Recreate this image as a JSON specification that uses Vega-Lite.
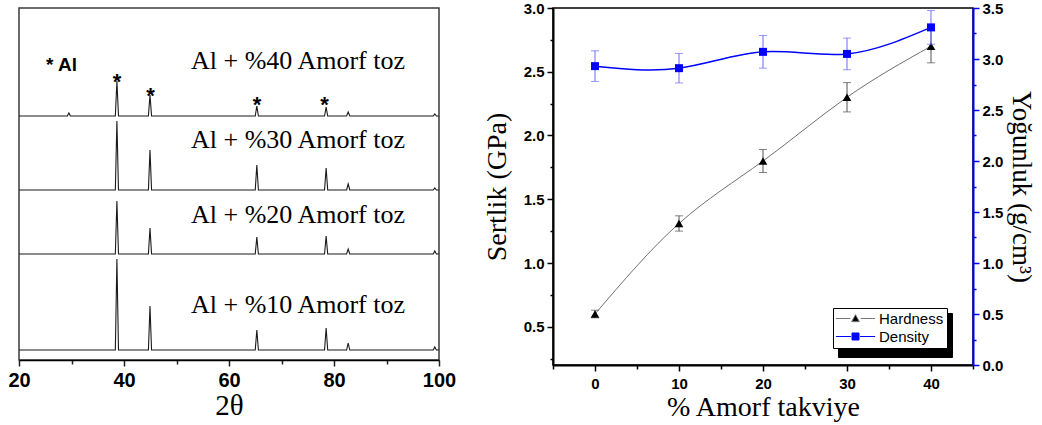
{
  "$schema": "https://vega.github.io/schema/vega-lite/v6.json",
  "background": "white",
  "padding": {"left": 7, "top": 0, "right": 0, "bottom": 0},
  "bounds": "flush",
  "spacing": 114,
  "datasets": {
    "xrd": [
      {"sample": "40", "theta": 20, "intensity": 244},
      {"sample": "40", "theta": 29.2, "intensity": 244},
      {"sample": "40", "theta": 29.5, "intensity": 247},
      {"sample": "40", "theta": 29.8, "intensity": 244},
      {"sample": "40", "theta": 38.35, "intensity": 244},
      {"sample": "40", "theta": 38.65, "intensity": 279},
      {"sample": "40", "theta": 38.95, "intensity": 244},
      {"sample": "40", "theta": 44.65, "intensity": 244},
      {"sample": "40", "theta": 44.95, "intensity": 265},
      {"sample": "40", "theta": 45.25, "intensity": 244},
      {"sample": "40", "theta": 65.0, "intensity": 244},
      {"sample": "40", "theta": 65.3, "intensity": 254},
      {"sample": "40", "theta": 65.6, "intensity": 244},
      {"sample": "40", "theta": 78.2, "intensity": 244},
      {"sample": "40", "theta": 78.5, "intensity": 253},
      {"sample": "40", "theta": 78.8, "intensity": 244},
      {"sample": "40", "theta": 82.4, "intensity": 244},
      {"sample": "40", "theta": 82.7, "intensity": 248},
      {"sample": "40", "theta": 83.0, "intensity": 244},
      {"sample": "40", "theta": 98.9, "intensity": 244},
      {"sample": "40", "theta": 99.2, "intensity": 246},
      {"sample": "40", "theta": 99.5, "intensity": 244},
      {"sample": "40", "theta": 100, "intensity": 244},
      {"sample": "30", "theta": 20, "intensity": 170},
      {"sample": "30", "theta": 38.35, "intensity": 170},
      {"sample": "30", "theta": 38.65, "intensity": 239},
      {"sample": "30", "theta": 38.95, "intensity": 170},
      {"sample": "30", "theta": 44.65, "intensity": 170},
      {"sample": "30", "theta": 44.95, "intensity": 210},
      {"sample": "30", "theta": 45.25, "intensity": 170},
      {"sample": "30", "theta": 65.0, "intensity": 170},
      {"sample": "30", "theta": 65.3, "intensity": 195},
      {"sample": "30", "theta": 65.6, "intensity": 170},
      {"sample": "30", "theta": 78.2, "intensity": 170},
      {"sample": "30", "theta": 78.5, "intensity": 192},
      {"sample": "30", "theta": 78.8, "intensity": 170},
      {"sample": "30", "theta": 82.4, "intensity": 170},
      {"sample": "30", "theta": 82.7, "intensity": 176},
      {"sample": "30", "theta": 83.0, "intensity": 170},
      {"sample": "30", "theta": 98.9, "intensity": 170},
      {"sample": "30", "theta": 99.2, "intensity": 172},
      {"sample": "30", "theta": 99.5, "intensity": 170},
      {"sample": "30", "theta": 100, "intensity": 170},
      {"sample": "20", "theta": 20, "intensity": 106},
      {"sample": "20", "theta": 38.35, "intensity": 106},
      {"sample": "20", "theta": 38.65, "intensity": 159},
      {"sample": "20", "theta": 38.95, "intensity": 106},
      {"sample": "20", "theta": 44.65, "intensity": 106},
      {"sample": "20", "theta": 44.95, "intensity": 132},
      {"sample": "20", "theta": 45.25, "intensity": 106},
      {"sample": "20", "theta": 65.0, "intensity": 106},
      {"sample": "20", "theta": 65.3, "intensity": 123},
      {"sample": "20", "theta": 65.6, "intensity": 106},
      {"sample": "20", "theta": 78.2, "intensity": 106},
      {"sample": "20", "theta": 78.5, "intensity": 124},
      {"sample": "20", "theta": 78.8, "intensity": 106},
      {"sample": "20", "theta": 82.4, "intensity": 106},
      {"sample": "20", "theta": 82.7, "intensity": 111},
      {"sample": "20", "theta": 83.0, "intensity": 106},
      {"sample": "20", "theta": 98.9, "intensity": 106},
      {"sample": "20", "theta": 99.2, "intensity": 109},
      {"sample": "20", "theta": 99.5, "intensity": 106},
      {"sample": "20", "theta": 100, "intensity": 106},
      {"sample": "10", "theta": 20, "intensity": 10},
      {"sample": "10", "theta": 38.35, "intensity": 10},
      {"sample": "10", "theta": 38.65, "intensity": 101},
      {"sample": "10", "theta": 38.95, "intensity": 10},
      {"sample": "10", "theta": 44.65, "intensity": 10},
      {"sample": "10", "theta": 44.95, "intensity": 54},
      {"sample": "10", "theta": 45.25, "intensity": 10},
      {"sample": "10", "theta": 65.0, "intensity": 10},
      {"sample": "10", "theta": 65.3, "intensity": 30},
      {"sample": "10", "theta": 65.6, "intensity": 10},
      {"sample": "10", "theta": 78.2, "intensity": 10},
      {"sample": "10", "theta": 78.5, "intensity": 32},
      {"sample": "10", "theta": 78.8, "intensity": 10},
      {"sample": "10", "theta": 82.4, "intensity": 10},
      {"sample": "10", "theta": 82.7, "intensity": 17},
      {"sample": "10", "theta": 83.0, "intensity": 10},
      {"sample": "10", "theta": 98.9, "intensity": 10},
      {"sample": "10", "theta": 99.2, "intensity": 13},
      {"sample": "10", "theta": 99.5, "intensity": 10},
      {"sample": "10", "theta": 100, "intensity": 10}
    ],
    "samplelabels": [
      {"theta": 73.14, "y": 291, "text": "Al + %40 Amorf toz"},
      {"theta": 73.14, "y": 212, "text": "Al + %30 Amorf toz"},
      {"theta": 73.14, "y": 137, "text": "Al + %20 Amorf toz"},
      {"theta": 73.14, "y": 47, "text": "Al + %10 Amorf toz"}
    ],
    "stars": [
      {"theta": 38.67, "y": 284, "text": "*"},
      {"theta": 45.05, "y": 270, "text": "*"},
      {"theta": 65.33, "y": 261, "text": "*"},
      {"theta": 78.2, "y": 261, "text": "*"}
    ],
    "note": [
      {"theta": 25.14, "y": 289, "text": "* Al"}
    ],
    "props": [
      {"pct": 0, "series": "Hardness", "value": 0.60, "err": 0.03},
      {"pct": 10, "series": "Hardness", "value": 1.31, "err": 0.06},
      {"pct": 20, "series": "Hardness", "value": 1.80, "err": 0.09},
      {"pct": 30, "series": "Hardness", "value": 2.30, "err": 0.115},
      {"pct": 40, "series": "Hardness", "value": 2.70, "err": 0.13},
      {"pct": 0, "series": "Density", "value": 2.93, "err": 0.15},
      {"pct": 10, "series": "Density", "value": 2.91, "err": 0.145},
      {"pct": 20, "series": "Density", "value": 3.07, "err": 0.16},
      {"pct": 30, "series": "Density", "value": 3.05, "err": 0.155},
      {"pct": 40, "series": "Density", "value": 3.31, "err": 0.165}
    ]
  },
  "hconcat": [
    {
      "width": 420,
      "height": 352,
      "view": {"stroke": "#3a3a3a", "strokeWidth": 1.5},
      "layer": [
        {
          "data": {"name": "xrd"},
          "mark": {"type": "line", "color": "#1a1a1a", "strokeWidth": 1.1},
          "encoding": {
            "x": {
              "field": "theta", "type": "quantitative",
              "title": "2θ",
              "scale": {"domain": [20, 100]},
              "axis": {
                "values": [20, 30, 40, 50, 60, 70, 80, 90, 100],
                "tickCount": 40,
                "labelExpr": "datum.value % 20 === 0 ? format(datum.value, 'd') : ''",
                "tickSize": {"expr": "(datum.value % 20 !== 0 ? 4 : 6)"},
                "labelFontSize": 20,
                "labelFlush": false,
                "labelOverlap": false,
                "labelPadding": 4,
                "domainColor": "#000000",
                "domainWidth": 1.5,
                "tickColor": "#222222",
                "tickWidth": 1.5,
                "titleFontSize": 29,
                "titlePadding": 1
              }
            },
            "y": {"field": "intensity", "type": "quantitative", "scale": {"domain": [0, 352]}, "axis": null},
            "detail": {"field": "sample"}
          }
        },
        {
          "data": {"name": "samplelabels"},
          "mark": {"type": "text", "font": "Liberation Serif", "fontSize": 26, "align": "center", "baseline": "alphabetic", "color": "#000000"},
          "encoding": {
            "x": {"field": "theta", "type": "quantitative", "title": "2θ", "scale": {"domain": [20, 100]}},
            "y": {"field": "y", "type": "quantitative", "scale": {"domain": [0, 352]}, "axis": null},
            "text": {"field": "text"}
          }
        },
        {
          "data": {"name": "stars"},
          "mark": {"type": "text", "font": "Liberation Sans", "fontWeight": "bold", "fontSize": 22, "align": "center", "baseline": "middle", "dy": 6, "color": "#000000"},
          "encoding": {
            "x": {"field": "theta", "type": "quantitative", "title": "2θ", "scale": {"domain": [20, 100]}},
            "y": {"field": "y", "type": "quantitative", "scale": {"domain": [0, 352]}, "axis": null},
            "text": {"field": "text"}
          }
        },
        {
          "data": {"name": "note"},
          "mark": {"type": "text", "font": "Liberation Sans", "fontWeight": "bold", "fontSize": 19, "align": "left", "baseline": "alphabetic", "color": "#000000"},
          "encoding": {
            "x": {"field": "theta", "type": "quantitative", "title": "2θ", "scale": {"domain": [20, 100]}},
            "y": {"field": "y", "type": "quantitative", "scale": {"domain": [0, 352]}, "axis": null},
            "text": {"field": "text"}
          }
        }
      ]
    },
    {
      "width": 420,
      "height": 357,
      "view": {"stroke": "#000000", "strokeWidth": 1.5},
      "data": {"name": "props"},
      "layer": [
        {
          "layer": [
            {
              "transform": [{"filter": "datum.series === 'Hardness'"}],
              "mark": {"type": "line", "color": "#707070", "strokeWidth": 1, "interpolate": "natural"},
              "encoding": {
                "x": {
                  "field": "pct", "type": "quantitative",
                  "title": "% Amorf takviye",
                  "scale": {"domain": [-5, 45]},
                  "axis": {
                    "values": [-5, 0, 5, 10, 15, 20, 25, 30, 35, 40, 45],
                    "tickCount": 40,
                    "labelExpr": "datum.value % 10 === 0 ? format(datum.value, 'd') : ''",
                    "tickSize": {"expr": "(datum.value % 10 !== 0 ? 4 : 6)"},
                    "labelFontSize": 15,
                    "labelFlush": false,
                    "labelOverlap": false,
                    "labelPadding": 5,
                    "domainColor": "#000000",
                    "domainWidth": 2,
                    "tickColor": "#000000",
                    "tickWidth": 1.5,
                    "titleFontSize": 28,
                    "titlePadding": 2
                  }
                },
                "y": {
                  "field": "value", "type": "quantitative",
                  "title": "Sertlik (GPa)",
                  "scale": {"domain": [0.25, 3.0]},
                  "axis": {
                    "orient": "left",
                    "values": [0.25, 0.5, 0.75, 1.0, 1.25, 1.5, 1.75, 2.0, 2.25, 2.5, 2.75, 3.0],
                    "tickCount": 40,
                    "labelExpr": "abs(datum.value * 2 - round(datum.value * 2)) < 0.01 ? format(datum.value, '.1f') : ''",
                    "tickSize": {"expr": "(abs(datum.value * 2 - round(datum.value * 2)) > 0.01 ? 3 : 6)"},
                    "labelFontSize": 15,
                    "labelFlush": false,
                    "labelOverlap": false,
                    "labelPadding": 3,
                    "domainColor": "#000000",
                    "domainWidth": 2,
                    "tickColor": "#000000",
                    "tickWidth": 1.5,
                    "titleFontSize": 28,
                    "titlePadding": 12
                  }
                }
              }
            },
            {
              "transform": [{"filter": "datum.series === 'Hardness'"}],
              "mark": {"type": "errorbar", "color": "#505050", "thickness": 1, "ticks": {"size": 8}},
              "encoding": {
                "x": {"field": "pct", "type": "quantitative", "title": "% Amorf takviye"},
                "y": {"field": "value", "type": "quantitative", "title": "Sertlik (GPa)"},
                "yError": {"field": "err"}
              }
            },
            {
              "transform": [{"filter": "datum.series === 'Hardness'"}],
              "mark": {"type": "point", "shape": "triangle-up", "filled": true, "size": 75, "opacity": 1},
              "encoding": {
                "x": {"field": "pct", "type": "quantitative", "title": "% Amorf takviye"},
                "y": {"field": "value", "type": "quantitative", "title": "Sertlik (GPa)"},
                "color": {
                  "field": "series", "type": "nominal",
                  "scale": {"domain": ["Hardness", "Density"], "range": ["#000000", "#0000ff"]},
                  "legend": {
                    "orient": "none", "legendX": 814, "legendY": 300, "title": null,
                    "fillColor": "#ffffff", "strokeColor": "#000000", "padding": 3,
                    "symbolSize": 196, "symbolOffset": 12, "labelOffset": 16,
                    "labelFont": "Liberation Sans", "labelFontSize": 15, "labelColor": "#000000",
                    "rowPadding": 2, "zindex": 2,
                    "encoding": {
                      "symbols": {
                        "shape": {"value": {"expr": "datum.value === 'Hardness' ? 'M-2.8,0H-0.75M0.75,0H2.8M0,-0.55L0.55,0.45L-0.55,0.45Z' : 'M-2.8,0H-0.65M0.65,0H2.8M-0.5,-0.5H0.5V0.5H-0.5Z'"}},
                        "stroke": {"value": {"expr": "datum.value === 'Hardness' ? '#777777' : '#0000ff'"}},
                        "fill": {"value": {"expr": "datum.value === 'Hardness' ? '#000000' : '#0000ff'"}},
                        "strokeWidth": {"value": 1}
                      }
                    }
                  }
                }
              }
            }
          ]
        },
        {
          "layer": [
            {
              "transform": [{"filter": "datum.series === 'Density'"}],
              "mark": {"type": "line", "color": "#0000ff", "strokeWidth": 1.5, "interpolate": "natural"},
              "encoding": {
                "x": {"field": "pct", "type": "quantitative", "title": "% Amorf takviye"},
                "y": {
                  "field": "value", "type": "quantitative",
                  "title": "Yoğunluk (g/cm³)",
                  "scale": {"domain": [0, 3.5]},
                  "axis": {
                    "orient": "right",
                    "values": [0, 0.25, 0.5, 0.75, 1.0, 1.25, 1.5, 1.75, 2.0, 2.25, 2.5, 2.75, 3.0, 3.25, 3.5],
                    "tickCount": 40,
                    "labelExpr": "abs(datum.value * 2 - round(datum.value * 2)) < 0.01 ? format(datum.value, '.1f') : ''",
                    "tickSize": {"expr": "(abs(datum.value * 2 - round(datum.value * 2)) > 0.01 ? 3 : 6)"},
                    "labelFontSize": 15,
                    "labelFlush": false,
                    "labelOverlap": false,
                    "labelPadding": 3,
                    "domainColor": "#0000ff",
                    "domainWidth": 2,
                    "tickColor": "#0000ff",
                    "tickWidth": 1.5,
                    "titleFontSize": 27,
                    "titlePadding": 4
                  }
                }
              }
            },
            {
              "transform": [{"filter": "datum.series === 'Density'"}],
              "mark": {"type": "errorbar", "color": "#6a6aff", "thickness": 1, "ticks": {"size": 8}},
              "encoding": {
                "x": {"field": "pct", "type": "quantitative", "title": "% Amorf takviye"},
                "y": {"field": "value", "type": "quantitative", "title": "Yoğunluk (g/cm³)"},
                "yError": {"field": "err"}
              }
            },
            {
              "transform": [{"filter": "datum.series === 'Density'"}],
              "mark": {"type": "point", "shape": "square", "filled": true, "size": 64, "opacity": 1},
              "encoding": {
                "x": {"field": "pct", "type": "quantitative", "title": "% Amorf takviye"},
                "y": {"field": "value", "type": "quantitative", "title": "Yoğunluk (g/cm³)"},
                "color": {"field": "series", "type": "nominal"}
              }
            }
          ]
        },
        {
          "mark": {"type": "point", "opacity": 0, "size": 10},
          "encoding": {
            "x": {"field": "pct", "type": "quantitative", "title": "% Amorf takviye"},
            "shape": {
              "field": "series", "type": "nominal",
              "legend": {
                "orient": "none", "legendX": 819, "legendY": 305, "title": null,
                "fillColor": "#000000", "strokeColor": "#000000", "padding": 3,
                "symbolSize": 196, "symbolOffset": 12, "labelOffset": 16,
                "labelFont": "Liberation Sans", "labelFontSize": 15, "labelColor": "#000000",
                "rowPadding": 2, "zindex": 1,
                "encoding": {
                  "symbols": {
                    "shape": {"value": {"expr": "datum.value === 'Hardness' ? 'M-2.8,0H-0.75M0.75,0H2.8M0,-0.55L0.55,0.45L-0.55,0.45Z' : 'M-2.8,0H-0.65M0.65,0H2.8M-0.5,-0.5H0.5V0.5H-0.5Z'"}},
                    "stroke": {"value": "#000000"},
                    "fill": {"value": "#000000"},
                    "strokeWidth": {"value": 1}
                  }
                }
              }
            }
          }
        }
      ],
      "resolve": {"scale": {"y": "independent"}}
    }
  ],
  "config": {
    "axis": {
      "labelFont": "Liberation Sans",
      "labelFontWeight": "bold",
      "labelColor": "#000000",
      "titleFont": "Liberation Serif",
      "titleFontWeight": "normal",
      "titleColor": "#000000",
      "grid": false
    }
  }
}
